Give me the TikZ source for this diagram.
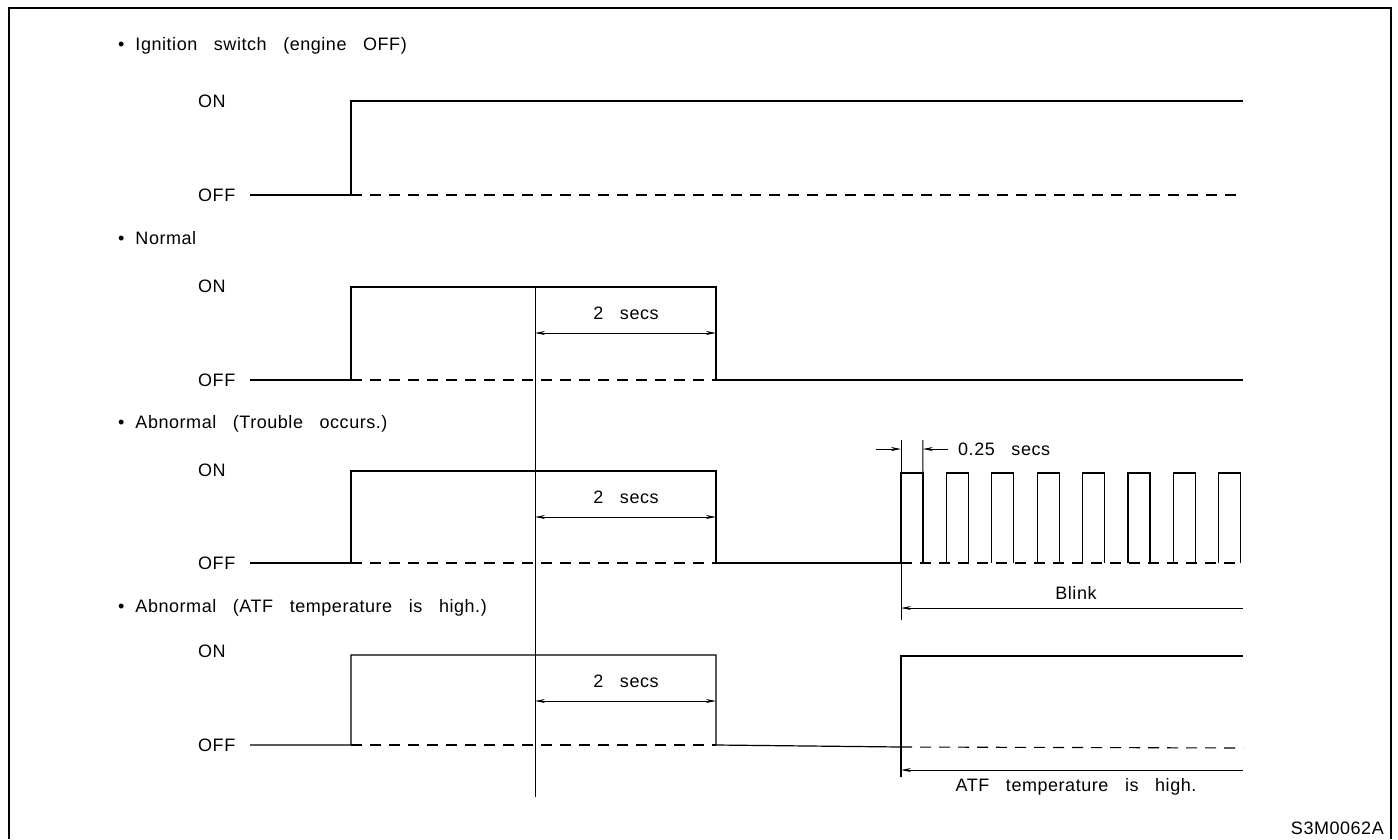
\documentclass[tikz,border=0pt]{standalone}
\usepackage{fontspec}
\setmainfont{Liberation Sans}[LetterSpace=3,WordSpace=3]
\usetikzlibrary{arrows.meta}
\begin{document}
\begin{tikzpicture}[x=1pt,y=-1pt,
  every node/.style={inner sep=0pt, font=\fontsize{18}{21}\selectfont},
  sig/.style={line width=1.2pt},
  dsh/.style={line width=1.1pt, dash pattern=on 11pt off 8pt},
  dimline/.style={line width=1pt},
  dimarrow/.style={line width=1pt, -{Stealth[length=10pt,width=4pt]}},
  dimboth/.style={line width=1pt, {Stealth[length=10pt,width=4pt]}-{Stealth[length=10pt,width=4pt]}},
  framel/.style={line width=2pt},
  titl/.style={anchor=base west},
  lvl/.style={anchor=west}]
\useasboundingbox (0,0) rectangle (1398,839);
\def\xs{250}\def\xr{351}\def\xm{535}\def\xf{716}\def\xb{901}\def\xe{1243}
\newcommand\bul{\textbullet\hspace{11pt}}
% frame
\coordinate (fbl) at (8.5,839);
\coordinate (ftl) at (8.5,7.5);
\coordinate (ftr) at (1391,7.5);
\coordinate (fbr) at (1391,839);
\draw[framel] (fbl) -- (ftl) -- (ftr) -- (fbr);

% ---------- Section 1
\node[titl] (t1) at (118,50) {\bul Ignition switch (engine OFF)};
\node[lvl] (on1) at (198,101) {ON};
\node[lvl] (off1) at (198,195) {OFF};
\coordinate (a0) at (\xs,195);
\coordinate (a1) at (\xr,195);
\coordinate (a2) at (\xr,101);
\coordinate (a3) at (\xe,101);
\coordinate (a4) at (\xe,195);
\draw[sig] (a0) -- (a1) -- (a2) -- (a3);
\draw[dsh] (a1) -- (a4);

% ---------- Section 2
\node[titl] (t2) at (118,244.5) {\bul Normal};
\node[lvl] (on2) at (198,286) {ON};
\node[lvl] (off2) at (198,380) {OFF};
\coordinate (b0) at (\xs,380);
\coordinate (b1) at (\xr,380);
\coordinate (b2) at (\xr,287);
\coordinate (b3) at (\xf,287);
\coordinate (b4) at (\xf,380);
\coordinate (b5) at (\xe,380);
\draw[sig] (b0) -- (b1) -- (b2) -- (b3) -- (b4) -- (b5);
\draw[dsh] (b1) -- (b4);
\coordinate (b6) at (\xm,333);
\coordinate (b7) at (\xf,333);
\draw[dimboth] (b6) -- (b7);
\node (s2) at (626,313) {2 secs};

% long vertical
\coordinate (vt) at (\xm,287);
\coordinate (vb) at (\xm,797);
\draw[dimline] (vt) -- (vb);

% ---------- Section 3
\node[titl] (t3) at (118,428.5) {\bul Abnormal (Trouble occurs.)};
\node[lvl] (on3) at (198,470) {ON};
\node[lvl] (off3) at (198,563) {OFF};
\coordinate (c0) at (\xs,563);
\coordinate (c1) at (\xr,563);
\coordinate (c2) at (\xr,471);
\coordinate (c3) at (\xf,471);
\coordinate (c4) at (\xf,563);
\coordinate (c5) at (\xb,563);
\coordinate (c6) at (\xe,563);
\draw[sig] (c0) -- (c1) -- (c2) -- (c3) -- (c4) -- (c5);
\draw[dsh] (c1) -- (c4);
\draw[dsh] (c5) -- (c6);
\coordinate (c7) at (\xm,517);
\coordinate (c8) at (\xf,517);
\draw[dimboth] (c7) -- (c8);
\node (s3) at (626,497) {2 secs};
% blink start line
\coordinate (bt) at (\xb,440);
\coordinate (bb) at (\xb,620);
\draw[dimline] (bt) -- (bb);
% pulses
\foreach \k in {0,...,7}{
  \pgfmathsetmacro\ra{901+45.4*\k}
  \pgfmathsetmacro\fa{\ra+22}
  \coordinate (pr\k) at (\ra,563);
  \coordinate (pu\k) at (\ra,473);
  \coordinate (pv\k) at (\fa,473);
  \coordinate (pf\k) at (\fa,563);
  \draw[sig] (pr\k) -- (pu\k) -- (pv\k) -- (pf\k);
}
\coordinate (pe) at (922.8,440);
\draw[dimline] (pe) -- (pv0);
% 0.25 secs
\coordinate (q0) at (876,449);
\coordinate (q1) at (\xb,449);
\coordinate (q2) at (948,449);
\coordinate (q3) at (922.8,449);
\draw[dimarrow] (q0) -- (q1);
\draw[dimarrow] (q2) -- (q3);
\node[anchor=west] (s025) at (958,449) {0.25 secs};
% blink arrow
\coordinate (r0) at (\xe,608);
\coordinate (r1) at (\xb,608);
\draw[dimarrow] (r0) -- (r1);
\node (blink) at (1076,593) {Blink};

% ---------- Section 4
\node[titl] (t4) at (118,612.5) {\bul Abnormal (ATF temperature is high.)};
\node[lvl] (on4) at (198,651) {ON};
\node[lvl] (off4) at (198,745) {OFF};
\coordinate (d0) at (\xs,745);
\coordinate (d1) at (\xr,745);
\coordinate (d2) at (\xr,655);
\coordinate (d3) at (\xf,655);
\coordinate (d4) at (\xf,745);
\coordinate (d5) at (\xb,747);
\draw[sig] (d0) -- (d1) -- (d2) -- (d3) -- (d4) -- (d5);
\draw[dsh] (d1) -- (d4);
\coordinate (d6) at (\xb,777);
\coordinate (d7) at (\xb,656);
\coordinate (d8) at (\xe,656);
\coordinate (d9) at (\xe,748);
\draw[sig] (d6) -- (d7) -- (d8);
\draw[dsh] (d5) -- (d9);
\coordinate (e0) at (\xm,701);
\coordinate (e1) at (\xf,701);
\draw[dimboth] (e0) -- (e1);
\node (s4) at (626,681) {2 secs};
\coordinate (g0) at (\xe,770);
\coordinate (g1) at (\xb,770);
\draw[dimarrow] (g0) -- (g1);
\node (atf) at (1076,787) {ATF temperature is high.};

% code
\node[anchor=east] (code) at (1384,828) {S3M0062A};
\end{tikzpicture}
\end{document}
